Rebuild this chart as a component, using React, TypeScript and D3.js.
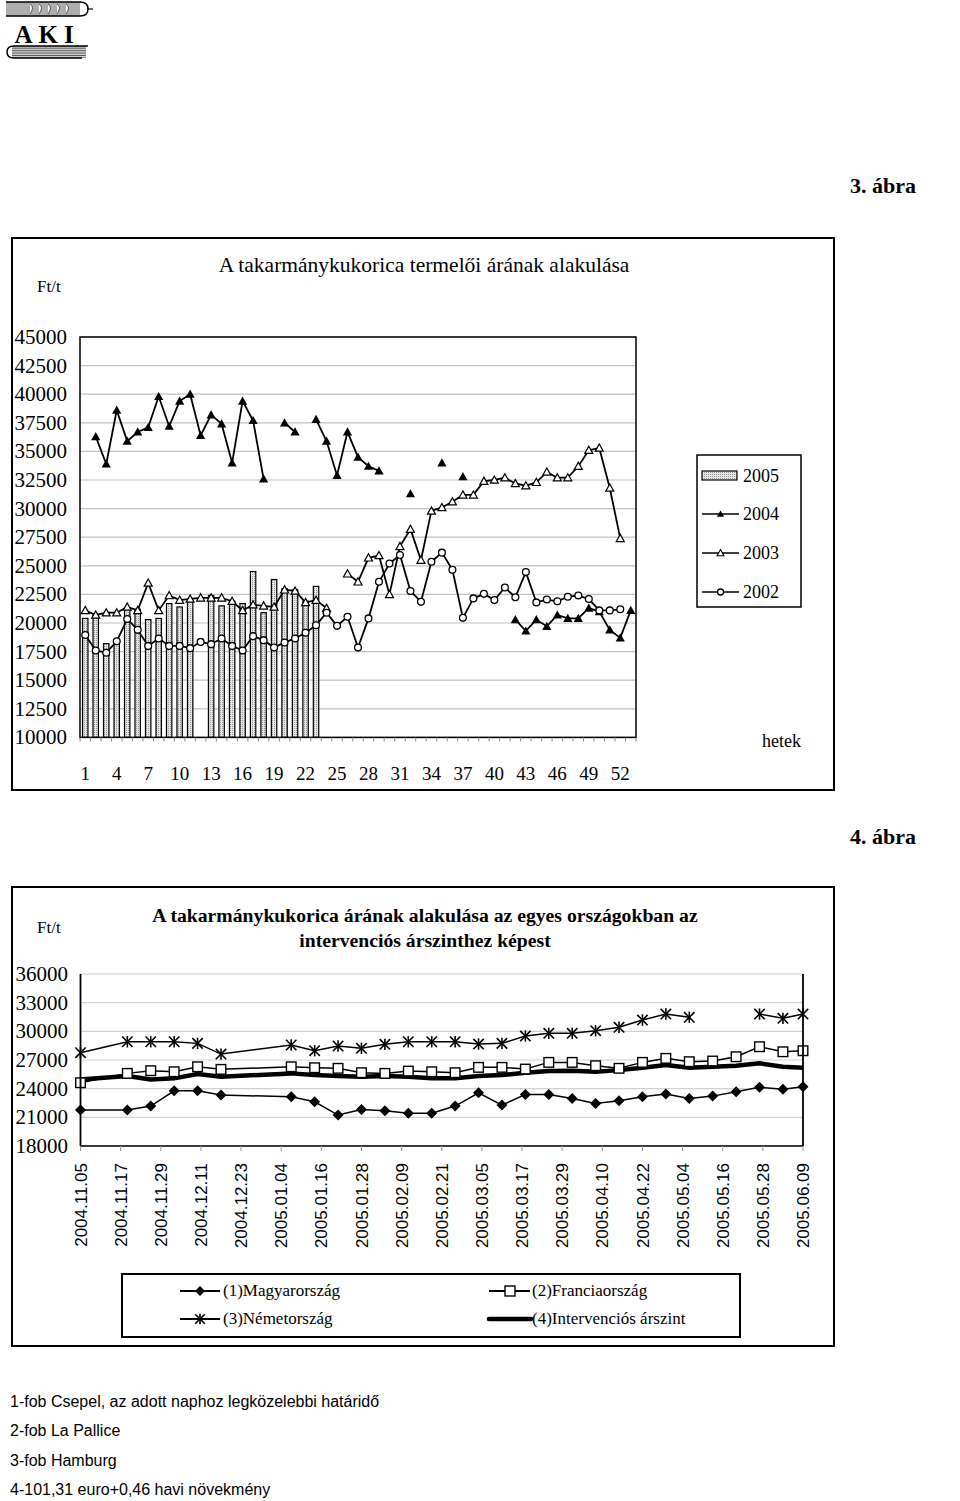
import React from "react";
import * as d3 from "d3";

// ---------- Chart 1 data (weekly producer price of feed maize, Ft/t) ----------
const weeks: number[] = d3.range(1, 54);
const weekTickLabels: number[] = [1, 4, 7, 10, 13, 16, 19, 22, 25, 28, 31, 34, 37, 40, 43, 46, 49, 52];
const yTicks1: number[] = [10000, 12500, 15000, 17500, 20000, 22500, 25000, 27500, 30000, 32500, 35000, 37500, 40000, 42500, 45000];

const s2005: (number | null)[] = [
  20400, 20700, 18200, 18500, 21300, 21200, 20300, 20400, 21700, 21400, 21900, null,
  22400, 21500, 21900, 21700, 24500, 20900, 23800, 23000, 22900, 21900, 23200,
];
const s2004: (number | null)[] = [
  null, 36300, 33900, 38600, 35900, 36700, 37100, 39800, 37200, 39400, 40000, 36400,
  38200, 37400, 34000, 39400, 37700, 32600, null, 37500, 36700, null, 37800, 35900,
  32900, 36700, 34500, 33700, 33300, null, null, 31300, null, null, 34000, null,
  32800, null, null, null, null, 20300, 19300, 20300, 19700, 20700, 20400, 20400,
  21300, 21000, 19400, 18700, 21100,
];
const s2003: (number | null)[] = [
  21100, 20700, 20900, 20900, 21400, 21100, 23500, 21100, 22400, 22000, 22100, 22200,
  22200, 22200, 21900, 21100, 21600, 21500, 21400, 22900, 22800, 21800, 22000, 21300,
  null, 24300, 23600, 25700, 25900, 22500, 26700, 28200, 25500, 29800, 30100, 30600,
  31200, 31200, 32400, 32500, 32700, 32200, 32000, 32300, 33200, 32700, 32700, 33700,
  35100, 35300, 31800, 27400, null,
];
const s2002: (number | null)[] = [
  18950, 17600, 17400, 18400, 20350, 19400, 18000, 18650, 18000, 18000, 17800, 18350,
  18150, 18650, 18000, 17600, 18850, 18500, 17850, 18300, 18650, 19150, 19800, 20900,
  19750, 20550, 17850, 20400, 23600, 25200, 25950, 22800, 21850, 25350, 26150, 24650,
  20450, 22150, 22550, 22000, 23100, 22250, 24450, 21800, 22050, 21900, 22300, 22400,
  22100, 21100, 21100, 21200, null,
];

// ---------- Chart 2 data (price by country vs intervention price) ----------
const dates2: string[] = [
  "2004.11.05", "2004.11.19", "2004.11.26", "2004.12.03", "2004.12.10", "2004.12.17",
  "2005.01.07", "2005.01.14", "2005.01.21", "2005.01.28", "2005.02.04", "2005.02.11",
  "2005.02.18", "2005.02.25", "2005.03.04", "2005.03.11", "2005.03.18", "2005.03.25",
  "2005.04.01", "2005.04.08", "2005.04.15", "2005.04.22", "2005.04.29", "2005.05.06",
  "2005.05.13", "2005.05.20", "2005.05.27", "2005.06.03", "2005.06.09",
];
const huValues: (number | null)[] = [
  21760, 21760, 22180, 23780, 23780, 23330, 23160, 22630, 21240, 21830, 21690, 21420,
  21420, 22180, 23570, 22280, 23400, 23400, 22980, 22460, 22740, 23160, 23440, 22980,
  23220, 23680, 24140, 23930, 24200,
];
const frValues: (number | null)[] = [
  24620, 25600, 25880, 25770, 26290, 26020, 26290, 26190, 26130, 25670, 25600, 25840,
  25770, 25670, 26230, 26230, 26050, 26750, 26750, 26400, 26130, 26750, 27170, 26820,
  26890, 27340, 28390, 27860, 27970,
];
const deValues: (number | null)[] = [
  27760, 28910, 28910, 28910, 28740, 27620, 28570, 27970, 28460, 28220, 28640, 28910,
  28910, 28910, 28670, 28740, 29510, 29790, 29790, 30070, 30420, 31180, 31810, 31470,
  null, null, 31810, 31360, 31810,
];
const ivValues: (number | null)[] = [
  24970, 25320, 24970, 25080, 25530, 25250, 25600, 25430, 25320, 25250, 25320, 25250,
  25080, 25080, 25320, 25430, 25670, 25840, 25880, 25770, 25940, 26190, 26470, 26190,
  26290, 26400, 26650, 26290, 26190,
];
const dateTickLabels: string[] = [
  "2004.11.05", "2004.11.17", "2004.11.29", "2004.12.11", "2004.12.23", "2005.01.04",
  "2005.01.16", "2005.01.28", "2005.02.09", "2005.02.21", "2005.03.05", "2005.03.17",
  "2005.03.29", "2005.04.10", "2005.04.22", "2005.05.04", "2005.05.16", "2005.05.28",
  "2005.06.09",
];
const yTicks2: number[] = [18000, 21000, 24000, 27000, 30000, 33000, 36000];

const footnotes: string[] = [
  "1-fob Csepel, az adott naphoz legközelebbi határidő",
  "2-fob La Pallice",
  "3-fob Hamburg",
  "4-101,31 euro+0,46 havi növekmény",
];

const serif = "'Liberation Serif', 'Times New Roman', serif";
const sans = "'Liberation Sans', Arial, sans-serif";

const triPath = "M0,-4.6L4.6,3.6L-4.6,3.6Z";

function Chart1() {
  const x = d3.scaleBand<number>().domain(weeks).range([80, 636]).padding(0);
  const bw = x.bandwidth();
  const cx = (w: number) => (x(w) as number) + bw / 2;
  const y = d3.scaleLinear().domain([10000, 45000]).range([737.4, 337]);

  const mk = (vals: (number | null)[]) =>
    vals.map((v, i) => ({ w: weeks[i], v })).filter((d) => d.w !== undefined);
  const line = d3
    .line<{ w: number; v: number | null }>()
    .defined((d) => d.v != null)
    .x((d) => cx(d.w))
    .y((d) => y(d.v as number));

  const d2004 = mk(s2004);
  const d2003 = mk(s2003);
  const d2002 = mk(s2002);
  const d2005 = mk(s2005);
  const barW = 5.4;

  return (
    <g>
      <rect x={12} y={238} width={822} height={552} fill="white" stroke="black" strokeWidth={2} />
      <text x={424} y={272} textAnchor="middle" fontFamily={serif} fontSize={21.5}>
        A takarmánykukorica termelői árának alakulása
      </text>
      <text x={37} y={292} fontFamily={serif} fontSize={17}>Ft/t</text>

      {/* gridlines */}
      {yTicks1.map((t) => (
        <line key={t} x1={80} x2={636} y1={y(t)} y2={y(t)} stroke="#c0c0c0" strokeWidth={1.2} />
      ))}
      {/* y labels */}
      {yTicks1.map((t) => (
        <text key={"l" + t} x={67} y={y(t) + 7} textAnchor="end" fontFamily={serif} fontSize={21}>
          {t}
        </text>
      ))}

      {/* bars 2005 */}
      {d2005.map((d) =>
        d.v == null ? null : (
          <rect
            key={"b" + d.w}
            x={cx(d.w) - barW / 2}
            y={y(d.v)}
            width={barW}
            height={y(10000) - y(d.v)}
            fill="url(#dots)"
            stroke="black"
            strokeWidth={1.2}
          />
        )
      )}

      {/* lines */}
      <path d={line(d2004) || ""} fill="none" stroke="black" strokeWidth={1.8} />
      <path d={line(d2003) || ""} fill="none" stroke="black" strokeWidth={1.8} />
      <path d={line(d2002) || ""} fill="none" stroke="black" strokeWidth={1.8} />

      {d2004.filter((d) => d.v != null).map((d) => (
        <path key={"t4" + d.w} d={triPath} transform={`translate(${cx(d.w)},${y(d.v as number)})`} fill="black" />
      ))}
      {d2003.filter((d) => d.v != null).map((d) => (
        <path key={"t3" + d.w} d="M0,-4L4,3.2L-4,3.2Z" transform={`translate(${cx(d.w)},${y(d.v as number)})`} fill="white" stroke="black" strokeWidth={1.2} />
      ))}
      {d2002.filter((d) => d.v != null).map((d) => (
        <circle key={"c2" + d.w} cx={cx(d.w)} cy={y(d.v as number)} r={3.4} fill="white" stroke="black" strokeWidth={1.3} />
      ))}

      {/* plot border */}
      <rect x={80} y={337} width={556} height={400.4} fill="none" stroke="black" strokeWidth={1.5} />
      {/* x ticks */}
      {d3.range(0, 54).map((i) => (
        <line key={"xt" + i} x1={80 + i * bw} x2={80 + i * bw} y1={737.4} y2={741.5} stroke="#888" strokeWidth={1} />
      ))}
      {weekTickLabels.map((w) => (
        <text key={"xl" + w} x={cx(w)} y={780} textAnchor="middle" fontFamily={serif} fontSize={19}>
          {w}
        </text>
      ))}
      <text x={762} y={747} fontFamily={serif} fontSize={18}>hetek</text>

      {/* legend */}
      <rect x={697} y={455} width={104} height={152} fill="white" stroke="black" strokeWidth={1.5} />
      <rect x={702} y={471} width={35} height={9} fill="url(#dots)" stroke="black" strokeWidth={1.2} />
      <text x={743} y={482} fontFamily={serif} fontSize={18}>2005</text>
      <line x1={702} x2={739} y1={514} y2={514} stroke="black" strokeWidth={1.6} />
      <path d="M0,-3.6L3.6,2.8L-3.6,2.8Z" transform="translate(720.5,514)" fill="black" />
      <text x={743} y={520} fontFamily={serif} fontSize={18}>2004</text>
      <line x1={702} x2={739} y1={553} y2={553} stroke="black" strokeWidth={1.6} />
      <path d="M0,-3.4L3.4,2.7L-3.4,2.7Z" transform="translate(720.5,553)" fill="white" stroke="black" strokeWidth={1.1} />
      <text x={743} y={559} fontFamily={serif} fontSize={18}>2003</text>
      <line x1={702} x2={739} y1={592} y2={592} stroke="black" strokeWidth={1.6} />
      <circle cx={720.5} cy={592} r={3} fill="white" stroke="black" strokeWidth={1.3} />
      <text x={743} y={598} fontFamily={serif} fontSize={18}>2002</text>
    </g>
  );
}

function Chart2() {
  const parse = d3.utcParse("%Y.%m.%d");
  const x = d3
    .scaleUtc()
    .domain([parse(dateTickLabels[0]) as Date, parse(dateTickLabels[dateTickLabels.length - 1]) as Date])
    .range([80.5, 803]);
  const y = d3.scaleLinear().domain([18000, 36000]).range([1146, 974]);

  type P = { d: Date; v: number | null };
  const mk = (vals: (number | null)[]): P[] => vals.map((v, i) => ({ d: parse(dates2[i]) as Date, v }));
  const line = d3
    .line<P>()
    .defined((p) => p.v != null)
    .x((p) => x(p.d))
    .y((p) => y(p.v as number));

  const hu = mk(huValues);
  const fr = mk(frValues);
  const de = mk(deValues);
  const iv = mk(ivValues);

  const star = (k: string, px: number, py: number, s = 5.2) => (
    <g key={k} transform={`translate(${px},${py})`} stroke="black" strokeWidth={1.6}>
      <line x1={-s} y1={-s} x2={s} y2={s} />
      <line x1={-s} y1={s} x2={s} y2={-s} />
      <line x1={0} y1={-s - 0.5} x2={0} y2={s + 0.5} />
    </g>
  );

  return (
    <g>
      <rect x={12} y={887} width={822} height={459} fill="white" stroke="black" strokeWidth={2} />
      <text x={37} y={933} fontFamily={serif} fontSize={17}>Ft/t</text>
      <text x={425} y={922} textAnchor="middle" fontFamily={serif} fontSize={19.7} fontWeight="bold">
        A takarmánykukorica árának alakulása az egyes országokban az
      </text>
      <text x={425} y={947} textAnchor="middle" fontFamily={serif} fontSize={19.7} fontWeight="bold">
        intervenciós árszinthez képest
      </text>

      {yTicks2.map((t) => (
        <line key={t} x1={80.5} x2={803} y1={y(t)} y2={y(t)} stroke="#d0d0d0" strokeWidth={1.2} />
      ))}
      {yTicks2.map((t) => (
        <text key={"l" + t} x={68} y={y(t) + 7} textAnchor="end" fontFamily={serif} fontSize={21}>
          {t}
        </text>
      ))}

      <path d={line(iv) || ""} fill="none" stroke="black" strokeWidth={4.5} strokeLinejoin="round" />
      <path d={line(hu) || ""} fill="none" stroke="black" strokeWidth={1.5} />
      <path d={line(fr) || ""} fill="none" stroke="black" strokeWidth={1.5} />
      <path d={line(de) || ""} fill="none" stroke="black" strokeWidth={1.5} />

      {hu.filter((p) => p.v != null).map((p, i) => (
        <path key={"hu" + i} d="M0,-5.5L5.5,0L0,5.5L-5.5,0Z" transform={`translate(${x(p.d)},${y(p.v as number)})`} fill="black" />
      ))}
      {fr.filter((p) => p.v != null).map((p, i) => (
        <rect key={"fr" + i} x={x(p.d) - 4.8} y={y(p.v as number) - 4.8} width={9.6} height={9.6} fill="white" stroke="black" strokeWidth={1.4} />
      ))}
      {de.filter((p) => p.v != null).map((p, i) => star("de" + i, x(p.d), y(p.v as number)))}

      {/* axes */}
      <line x1={80.5} x2={80.5} y1={974} y2={1146} stroke="black" strokeWidth={1.8} />
      <line x1={803} x2={803} y1={974} y2={1146} stroke="black" strokeWidth={1.8} />
      <line x1={80.5} x2={803} y1={1146} y2={1146} stroke="black" strokeWidth={1.5} />
      {dateTickLabels.map((s) => {
        const px = x(parse(s) as Date);
        return (
          <g key={s}>
            <line x1={px} x2={px} y1={1146} y2={1151} stroke="#999" strokeWidth={1} />
            <text
              transform={`translate(${px},1163) rotate(-90)`}
              textAnchor="end"
              dy="0.36em"
              fontFamily={sans}
              fontSize={17}
            >
              {s}
            </text>
          </g>
        );
      })}

      {/* legend */}
      <rect x={122} y={1274} width={618} height={63} fill="white" stroke="black" strokeWidth={2} />
      <line x1={180} x2={220} y1={1291} y2={1291} stroke="black" strokeWidth={1.8} />
      <path d="M0,-5L5,0L0,5L-5,0Z" transform="translate(200,1291)" fill="black" />
      <text x={223} y={1296} fontFamily={serif} fontSize={17}>(1)Magyarország</text>
      <line x1={489} x2={530} y1={1291} y2={1291} stroke="black" strokeWidth={1.8} />
      <rect x={505} y={1286} width={10} height={10} fill="white" stroke="black" strokeWidth={1.4} />
      <text x={532} y={1296} fontFamily={serif} fontSize={17}>(2)Franciaország</text>
      <line x1={180} x2={220} y1={1319} y2={1319} stroke="black" strokeWidth={1.8} />
      {star("lg", 200, 1319, 4.8)}
      <text x={223} y={1324} fontFamily={serif} fontSize={17}>(3)Németország</text>
      <line x1={489} x2={531} y1={1319} y2={1319} stroke="black" strokeWidth={4.5} strokeLinecap="round" />
      <text x={532} y={1324} fontFamily={serif} fontSize={17}>(4)Intervenciós árszint</text>
    </g>
  );
}

function Logo() {
  const stripes = d3.range(0, 7);
  return (
    <g>
      {stripes.map((i) => (
        <line key={"a" + i} x1={6} x2={80} y1={3 + i * 2} y2={3 + i * 2} stroke="#333" strokeWidth={0.8} />
      ))}
      <path d="M6,2 L80,2 Q88,2 88,9 Q88,16 80,16 L6,16" fill="none" stroke="black" strokeWidth={1.5} />
      <line x1={88} x2={93} y1={9} y2={9} stroke="black" strokeWidth={1.2} />
      {d3.range(0, 5).map((i) => (
        <path key={"s" + i} d={`M${30 + i * 9},4 q5,3 0,10`} fill="white" stroke="#333" strokeWidth={0.8} />
      ))}
      <text x={47} y={43} textAnchor="middle" fontFamily={serif} fontSize={25} fontWeight="bold" letterSpacing={6}>
        AKI
      </text>
      {stripes.map((i) => (
        <line key={"b" + i} x1={12} x2={86} y1={47 + i * 1.7} y2={47 + i * 1.7} stroke="#333" strokeWidth={0.8} />
      ))}
      <path d="M88,46 L14,46 Q7,46 7,52 Q7,58 14,58 L82,58" fill="none" stroke="black" strokeWidth={1.5} />
    </g>
  );
}

export default function App() {
  return (
    <svg
      width={960}
      height={1501}
      style={{ position: "absolute", left: 0, top: 0, background: "white" }}
      xmlns="http://www.w3.org/2000/svg"
    >
      <defs>
        <pattern id="dots" width={2} height={2} patternUnits="userSpaceOnUse">
          <rect width={2} height={2} fill="#e4e4e4" />
          <rect width={1} height={1} fill="#9a9a9a" />
        </pattern>
      </defs>
      <rect width={960} height={1501} fill="white" />
      <Logo />
      <text x={916} y={193} textAnchor="end" fontFamily={serif} fontSize={22} fontWeight="bold">
        3. ábra
      </text>
      <Chart1 />
      <text x={916} y={844} textAnchor="end" fontFamily={serif} fontSize={22} fontWeight="bold">
        4. ábra
      </text>
      <Chart2 />
      {footnotes.map((f, i) => (
        <text key={i} x={10} y={1407 + i * 29.3} fontFamily={sans} fontSize={16}>
          {f}
        </text>
      ))}
    </svg>
  );
}
